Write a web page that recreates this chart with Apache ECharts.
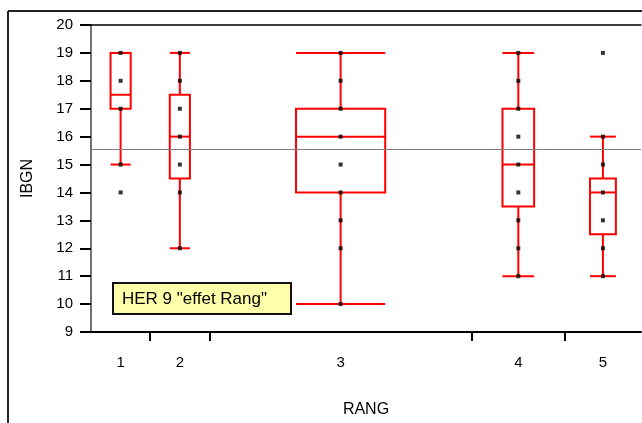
<!DOCTYPE html>
<html lang="fr">
<head>
  <meta charset="UTF-8">
  <title>IBGN par RANG</title>
  <script src="https://cdn.jsdelivr.net/npm/echarts@6/dist/echarts.min.js"></script>
  <style>
    html, body { margin: 0; padding: 0; background: #fff; }
    #chart { width: 642px; height: 423px; }
  </style>
</head>
<body>
<div id="chart"></div>
<script>
  // data
  const rangs = ['1', '2', '3', '4', '5'];
  const counts = [7, 7, 31, 11, 9];          // group sizes -> segment widths
  const whiskLow = [15, 12, 10, 11, 11];
  const q1 = [17, 14.5, 14, 13.5, 12.5];
  const median = [17.5, 16, 16, 15, 14];
  const q3 = [19, 17.5, 17, 17, 14.5];
  const whiskHigh = [19, 19, 19, 19, 16];
  const points = [
    [19, 18, 17, 15, 14],
    [19, 18, 17, 16, 15, 14, 12],
    [19, 18, 17, 16, 15, 14, 13, 12, 10],
    [19, 18, 17, 16, 15, 14, 13, 12, 11],
    [19, 16, 15, 14, 13, 12, 11]
  ];
  const grandMean = 15.55;
  const yTicks = [9, 20];

  // segment boundaries and centres along RANG axis
  let bounds = [0];
  counts.forEach(function (c) { bounds.push(bounds[bounds.length - 1] + c); });
  const total = bounds[bounds.length - 1];
  const centers = counts.map(function (c, i) { return bounds[i] + c / 2; });
  const inner = bounds.slice(1, -1);

  const boxData = rangs.map(function (r, i) {
    return [centers[i], whiskLow[i], q1[i], median[i], q3[i], whiskHigh[i], counts[i]];
  });
  let pointData = [];
  points.forEach(function (vals, i) {
    vals.forEach(function (v) { pointData.push([centers[i], v]); });
  });

  const RED = '#ff0000';
  const FONT = 'Liberation Sans, Arial, sans-serif';

  function renderBox(params, api) {
    const x = api.value(0);
    const half = api.value(6) * 0.17;
    const l = api.coord([x - half, 0])[0];
    const r = api.coord([x + half, 0])[0];
    const c = api.coord([x, 0])[0];
    const yLo = api.coord([x, api.value(1)])[1];
    const yQ1 = api.coord([x, api.value(2)])[1];
    const yMed = api.coord([x, api.value(3)])[1];
    const yQ3 = api.coord([x, api.value(4)])[1];
    const yHi = api.coord([x, api.value(5)])[1];
    const st = { stroke: RED, lineWidth: 2, fill: null };
    return {
      type: 'group',
      children: [
        { type: 'line', shape: { x1: c, y1: yQ1, x2: c, y2: yLo }, style: st },
        { type: 'line', shape: { x1: c, y1: yQ3, x2: c, y2: yHi }, style: st },
        { type: 'line', shape: { x1: l, y1: yLo, x2: r, y2: yLo }, style: st },
        { type: 'line', shape: { x1: l, y1: yHi, x2: r, y2: yHi }, style: st },
        { type: 'rect', shape: { x: l, y: yQ3, width: r - l, height: yQ1 - yQ3 }, style: st },
        { type: 'line', shape: { x1: l, y1: yMed, x2: r, y2: yMed }, style: st }
      ]
    };
  }

  let chart = echarts.init(document.getElementById('chart'));
  let option = {
    animation: false,
    backgroundColor: '#fff',
    grid: { left: 91, right: 1, top: 25, bottom: 88 },
    xAxis: [{
      type: 'value',
      min: 0,
      max: total,
      name: 'RANG',
      nameLocation: 'middle',
      nameGap: 70,
      nameTextStyle: { fontFamily: FONT, fontSize: 16, color: '#000' },
      axisLine: { lineStyle: { color: '#000', width: 2 } },
      axisTick: { show: true, customValues: inner, length: 9, lineStyle: { color: '#000', width: 2 } },
      axisLabel: {
        customValues: centers,
        margin: 23,
        fontFamily: FONT,
        fontSize: 15,
        color: '#000',
        formatter: function (v) {
          const i = centers.indexOf(v);
          return i >= 0 ? rangs[i] : '';
        }
      },
      splitLine: { show: false }
    }, {
      type: 'value',
      position: 'top',
      min: 0,
      max: total,
      axisLine: { show: true, lineStyle: { color: '#000', width: 1.5 } },
      axisTick: { show: false },
      axisLabel: { show: false },
      splitLine: { show: false }
    }],
    yAxis: [{
      type: 'value',
      min: yTicks[0],
      max: yTicks[1],
      interval: 1,
      name: 'IBGN',
      nameLocation: 'middle',
      nameGap: 55,
      nameTextStyle: { fontFamily: FONT, fontSize: 16, color: '#000' },
      axisLine: { show: true, lineStyle: { color: '#000', width: 2 } },
      axisTick: { show: true, length: 11, lineStyle: { color: '#000', width: 2 } },
      axisLabel: { margin: 18, fontFamily: FONT, fontSize: 15, color: '#000' },
      splitLine: { show: false }
    }, {
      type: 'value',
      position: 'right',
      min: yTicks[0],
      max: yTicks[1],
      axisLine: { show: true, lineStyle: { color: '#999', width: 1.5 } },
      axisTick: { show: false },
      axisLabel: { show: false },
      splitLine: { show: false }
    }],
    series: [{
      type: 'custom',
      renderItem: renderBox,
      data: boxData,
      z: 2
    }, {
      type: 'scatter',
      symbol: 'rect',
      symbolSize: [4, 4],
      itemStyle: { color: '#000' },
      data: pointData,
      z: 3,
      markLine: {
        silent: true,
        symbol: 'none',
        label: { show: false },
        lineStyle: { color: '#808080', width: 1.2, type: 'solid' },
        data: [{ yAxis: grandMean }]
      }
    }],
    graphic: [
      { type: 'line', shape: { x1: 8, y1: 11, x2: 8, y2: 423 }, style: { stroke: '#222', lineWidth: 2 } },
      { type: 'line', shape: { x1: 8, y1: 11, x2: 642, y2: 11 }, style: { stroke: '#222', lineWidth: 2 } },
      {
        type: 'group',
        left: 112,
        top: 282,
        children: [
          { type: 'rect', shape: { x: 0, y: 0, width: 178, height: 31 }, style: { fill: '#ffffaa', stroke: '#111', lineWidth: 2 } },
          {
            type: 'text',
            x: 9,
            y: 16,
            style: { text: 'HER 9 "effet Rang"', font: '17px ' + FONT, fill: '#000', verticalAlign: 'middle' }
          }
        ]
      }
    ]
  };
  chart.setOption(option);
</script>
</body>
</html>
